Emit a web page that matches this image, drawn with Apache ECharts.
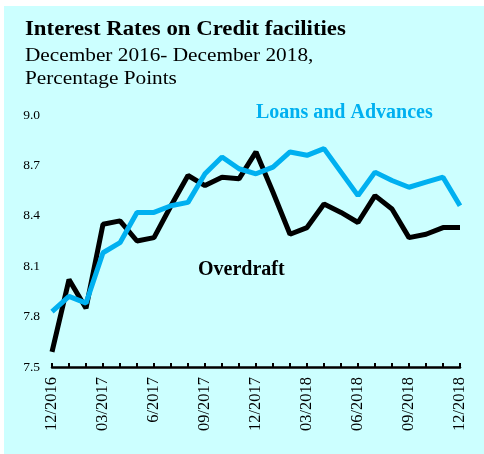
<!DOCTYPE html>
<html>
<head>
<meta charset="utf-8">
<script src="https://cdn.jsdelivr.net/npm/echarts@6/dist/echarts.min.js"></script>
<style>
  html, body { margin: 0; padding: 0; background: #ffffff; }
  #chart { width: 484px; height: 454px; }
</style>
</head>
<body>
<div id="chart"></div>
<script>
// Monthly observations, December 2016 to December 2018
const months = [
  '12/2016', '01/2017', '02/2017', '03/2017', '04/2017', '05/2017', '6/2017',
  '07/2017', '08/2017', '09/2017', '10/2017', '11/2017', '12/2017',
  '01/2018', '02/2018', '03/2018', '04/2018', '05/2018', '06/2018',
  '07/2018', '08/2018', '09/2018', '10/2018', '11/2018', '12/2018'
];

// Interest rates, percent
const overdraft = [
  7.59, 8.02, 7.85, 8.35, 8.37, 8.25, 8.27, 8.46, 8.64, 8.58, 8.63, 8.62, 8.78,
  8.54, 8.29, 8.33, 8.47, 8.42, 8.36, 8.52, 8.44, 8.27, 8.29, 8.33, 8.33
];
const loansAndAdvances = [
  7.83, 7.92, 7.88, 8.18, 8.24, 8.42, 8.42, 8.46, 8.48, 8.65, 8.75, 8.68, 8.65,
  8.69, 8.78, 8.76, 8.80, 8.66, 8.52, 8.66, 8.61, 8.57, 8.60, 8.63, 8.46
];

// Value axis ticks
const yTicks = [7.5, 7.8, 8.1, 8.4, 8.7, 9.0];

const serif = '"Liberation Serif", "Times New Roman", serif';
const blue = '#00b0f0';

const chart = echarts.init(document.getElementById('chart'));
chart.setOption({
  backgroundColor: '#ffffff',
  animation: false,
  graphic: [
    { type: 'rect', z: -10, silent: true,
      shape: { x: 4, y: 6, width: 480, height: 448 },
      style: { fill: '#ccffff' } },
    { type: 'text', x: 25, y: 20, scaleX: 1.14,
      style: { text: 'Interest Rates on Credit facilities', font: 'bold 20px ' + serif, fill: '#000' } },
    { type: 'text', x: 25, y: 45, scaleX: 1.12,
      style: { text: 'December 2016- December 2018,\nPercentage Points', font: '19px ' + serif, lineHeight: 23, fill: '#000' } },
    { type: 'text', x: 256, y: 103,
      style: { text: 'Loans and Advances', font: 'bold 20px ' + serif, fill: blue } },
    { type: 'text', x: 198, y: 260,
      style: { text: 'Overdraft', font: 'bold 20px ' + serif, fill: '#000' } }
  ],
  grid: { left: 52, right: 24, top: 115, bottom: 87, containLabel: false },
  xAxis: {
    type: 'category',
    data: months,
    boundaryGap: false,
    axisLine: { lineStyle: { color: '#000', width: 2.5 } },
    axisTick: { show: true, inside: true, length: 4, interval: 0, lineStyle: { color: '#000', width: 2 } },
    axisLabel: {
      interval: 2, rotate: 90, margin: 10,
      fontFamily: serif, fontSize: 16.5, color: '#000'
    },
    splitLine: { show: false }
  },
  yAxis: {
    type: 'value',
    min: yTicks[0],
    max: yTicks[yTicks.length - 1],
    interval: 0.3,
    axisLine: { show: false },
    axisTick: { show: false },
    splitLine: { show: false },
    axisLabel: {
      margin: 12, fontFamily: serif, fontSize: 13.5, color: '#000',
      formatter: v => Number(v).toFixed(1)
    }
  },
  series: [
    {
      name: 'Overdraft', type: 'line', data: overdraft,
      symbol: 'none', lineStyle: { color: '#000', width: 5 }, z: 2
    },
    {
      name: 'Loans and Advances', type: 'line', data: loansAndAdvances,
      symbol: 'none', lineStyle: { color: blue, width: 5 }, z: 3
    }
  ]
});
</script>
</body>
</html>
